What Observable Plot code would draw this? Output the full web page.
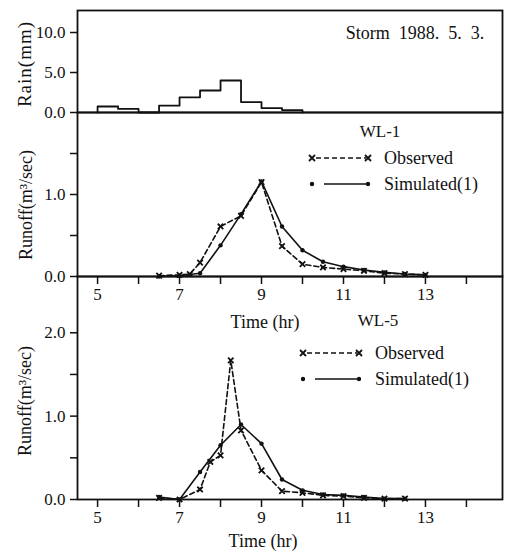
<!DOCTYPE html>
<html><head><meta charset="utf-8">
<script src="https://cdn.jsdelivr.net/npm/d3@7"></script>
<script src="https://cdn.jsdelivr.net/npm/@observablehq/plot@0.6"></script>
<style>
body{margin:0;background:#fff;}
#wrap{position:relative;width:507px;height:552px;overflow:hidden;font-family:"Liberation Serif",serif;color:#111;background:#fff;}
#wrap svg{position:absolute;left:0;top:0;}
.c{position:absolute;white-space:pre;line-height:1;transform:translate(-50%,-50%);font-family:"Liberation Serif",serif;}
.r{position:absolute;white-space:pre;line-height:1;transform:translate(-50%,-50%) rotate(-90deg);font-family:"Liberation Serif",serif;}
.lg{position:absolute;}
</style></head><body><div id="wrap"></div>
<script>
// ---- data ----
const rainEdges = [5.0, 5.5, 6.0, 6.5, 7.0, 7.5, 8.0, 8.5, 9.0, 9.5, 10.0];
const rainMm = [0.75, 0.45, 0.0, 0.85, 1.9, 2.75, 4.0, 1.3, 0.55, 0.3];
const rainTicks = [0, 5, 10];

const timeTicks = [5, 6, 7, 8, 9, 10, 11, 12, 13, 14];
const timeLabels = [5, 7, 9, 11, 13];

const wl1ObsTime = [6.5, 7.0, 7.25, 7.5, 8.0, 8.5, 9.0, 9.5, 10.0, 10.5, 11.0, 11.5, 12.0, 12.5, 13.0];
const wl1ObsQ    = [0.01, 0.02, 0.03, 0.17, 0.61, 0.74, 1.15, 0.37, 0.15, 0.11, 0.09, 0.07, 0.04, 0.03, 0.02];
const wl1SimTime = [6.5, 7.0, 7.5, 8.0, 8.5, 9.0, 9.5, 10.0, 10.5, 11.0, 11.5, 12.0, 12.5, 13.0];
const wl1SimQ    = [0.0, 0.01, 0.04, 0.38, 0.76, 1.16, 0.61, 0.32, 0.18, 0.12, 0.08, 0.05, 0.03, 0.02];
const wl1Ticks = [0, 0.5, 1.0, 1.5];
const wl1Labels = [0, 1.0];

const wl5ObsTime = [6.5, 7.0, 7.5, 7.75, 8.0, 8.25, 8.5, 9.0, 9.5, 10.0, 10.5, 11.0, 11.5, 12.0, 12.5];
const wl5ObsQ    = [0.02, 0.0, 0.12, 0.45, 0.53, 1.67, 0.83, 0.35, 0.10, 0.08, 0.05, 0.04, 0.02, 0.01, 0.01];
const wl5SimTime = [6.5, 7.0, 7.5, 8.0, 8.5, 9.0, 9.5, 10.0, 10.5, 11.0, 11.5, 12.0, 12.5];
const wl5SimQ    = [0.03, 0.0, 0.33, 0.65, 0.90, 0.67, 0.24, 0.11, 0.06, 0.05, 0.03, 0.01, 0.01];
const wl5Ticks = [0, 0.5, 1.0, 1.5, 2.0];
const wl5Labels = [0, 1.0, 2.0];

// ---- layout ----
const W = 507, H = 552, L = 77, R = 5;
const xDomain = [4.51, 14.88];
const ink = "#111";
const FONT = "'Liberation Serif', serif";

const zip = (t, v) => t.map((d, i) => ({t: d, v: v[i]}));
const rainPts = [{t: rainEdges[0], v: 0}]
  .concat(rainMm.map((v, i) => ({t: rainEdges[i], v})))
  .concat([{t: rainEdges[rainEdges.length - 1], v: 0}]);

function panel(top, bottom, yDomain, xAxis, marks) {
  return Plot.plot({
    width: W, height: H,
    marginLeft: L, marginRight: R, marginTop: top, marginBottom: H - bottom,
    x: xAxis ? {domain: xDomain} : {domain: xDomain, axis: null},
    y: {domain: yDomain},
    style: {background: "transparent", overflow: "visible", fontFamily: FONT, fontSize: "17px", color: ink},
    marks
  });
}

function yAxis(ticks, labels) {
  return Plot.axisY({ticks, tickFormat: d => labels.includes(d) ? d.toFixed(1) : "", tickSize: 7, tickPadding: 5, label: null, fontSize: 17, fontFamily: FONT, stroke: ink, strokeWidth: 1.5});
}
function xAxis() {
  return Plot.axisX({ticks: timeTicks, tickFormat: d => timeLabels.includes(d) ? String(d) : "", tickSize: 8, tickPadding: 3, label: null, fontSize: 17, fontFamily: FONT, stroke: ink, strokeWidth: 1.5});
}
function series(obs, sim) {
  return [
    Plot.line(obs, {x: "t", y: "v", stroke: ink, strokeWidth: 1.6, strokeDasharray: "5,3"}),
    Plot.line(sim, {x: "t", y: "v", stroke: ink, strokeWidth: 1.6}),
    Plot.dot(obs, {x: "t", y: "v", symbol: "times", r: 2.6, stroke: ink, strokeWidth: 1.8}),
    Plot.dot(sim, {x: "t", y: "v", r: 2.2, fill: ink, stroke: "none"})
  ];
}

const wrap = document.getElementById("wrap");

wrap.appendChild(panel(10, 112, [0, 12.75], false, [
  yAxis(rainTicks, rainTicks),
  Plot.line(rainPts, {x: "t", y: "v", curve: "step-after", stroke: ink, strokeWidth: 1.8}),
  Plot.frame({stroke: ink, strokeWidth: 1.8})
]));

wrap.appendChild(panel(112, 276, [0, 2.0], true, [
  yAxis(wl1Ticks, wl1Labels),
  xAxis(),
  ...series(zip(wl1ObsTime, wl1ObsQ), zip(wl1SimTime, wl1SimQ)),
  Plot.frame({stroke: ink, strokeWidth: 1.8})
]));

wrap.appendChild(panel(276, 499, [0, 2.675], true, [
  yAxis(wl5Ticks, wl5Labels),
  xAxis(),
  ...series(zip(wl5ObsTime, wl5ObsQ), zip(wl5SimTime, wl5SimQ)),
  Plot.frame({stroke: ink, strokeWidth: 1.8})
]));

// ---- text labels ----
function addText(cls, x, y, txt, size, spacing) {
  const d = document.createElement("div");
  d.className = cls;
  d.style.left = x + "px"; d.style.top = y + "px"; d.style.fontSize = size + "px";
  if (spacing) d.style.letterSpacing = spacing + "px";
  d.textContent = txt;
  wrap.appendChild(d);
}
addText("c", 415, 33, "Storm\u00a0 1988.\u00a0 5.\u00a0 3.", 18);
addText("r", 24, 64, "Rain(mm)", 19, 1);
addText("c", 380, 131, "WL-1", 17);
addText("r", 26, 205, "Runoff(m\u00b3/sec)", 18);
addText("c", 265, 322, "Time (hr)", 18);
addText("c", 378, 320, "WL-5", 17);
addText("r", 25, 401, "Runoff(m\u00b3/sec)", 18);
addText("c", 263, 541, "Time (hr)", 18);

// ---- legends ----
function legend(x, y) {
  const ns = "http://www.w3.org/2000/svg";
  const rows = [
    {label: "Observed", dash: "5,3", mark: "x", dy: 0},
    {label: "Simulated(1)", dash: null, mark: "o", dy: 26}
  ];
  rows.forEach(r => {
    const d = document.createElement("div");
    d.className = "lg";
    d.style.left = x + "px"; d.style.top = (y + r.dy - 10) + "px";
    d.innerHTML = `<svg xmlns="${ns}" width="200" height="20" style="position:static;overflow:visible">
      <line x1="${r.mark === 'x' ? 4 : 12}" y1="10" x2="54" y2="10" stroke="${ink}" stroke-width="1.5" ${r.dash ? `stroke-dasharray="${r.dash}"` : ""}/>
      ${r.mark === "x"
        ? `<path d="M-3,7L3,13M3,7L-3,13" stroke="${ink}" stroke-width="1.8"/><path d="M53,7L59,13M59,7L53,13" stroke="${ink}" stroke-width="1.8"/>`
        : `<circle cx="0" cy="10" r="2.2" fill="${ink}"/><circle cx="56" cy="10" r="2.2" fill="${ink}"/>`}
      <text x="72" y="16" font-family="${FONT}" font-size="18" fill="${ink}">${r.label}</text>
    </svg>`;
    wrap.appendChild(d);
  });
}
legend(312, 158);
legend(303, 353);
</script></body></html>
